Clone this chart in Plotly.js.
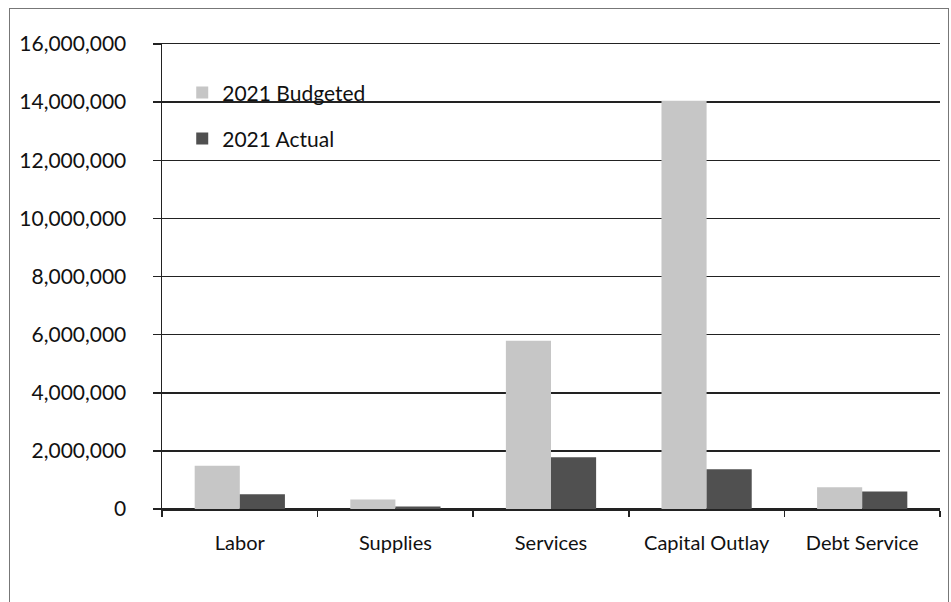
<!DOCTYPE html>
<html>
<head>
<meta charset="utf-8">
<script src="https://cdn.plot.ly/plotly-3.0.1.min.js"></script>
<style>
  html, body { margin: 0; padding: 0; background: #fff; }
  #chart { width: 951px; height: 602px; position: absolute; left: 0; top: 0; }
  #frame { position: absolute; left: 9px; top: 8px; width: 938px; height: 620px; border: 1.5px solid #777; pointer-events: none; }
</style>
</head>
<body>
<div id="chart"></div>
<div id="frame"></div>
<script>
const categories = ["Labor", "Supplies", "Services", "Capital Outlay", "Debt Service"];
const budgeted2021 = [1490000, 330000, 5790000, 14050000, 750000];
const actual2021 = [510000, 90000, 1780000, 1370000, 600000];
const seriesNames = ["2021 Budgeted", "2021 Actual"];
const yTickVals = [0, 2000000, 4000000, 6000000, 8000000, 10000000, 12000000, 14000000, 16000000];

const fontFam = "Lato, 'Open Sans', sans-serif";

const traces = [
  {
    type: "bar", name: seriesNames[0], x: categories, y: budgeted2021,
    marker: { color: "#c6c6c6", line: { width: 0 } },
    legend: "legend", hoverinfo: "skip"
  },
  {
    type: "bar", name: seriesNames[1], x: categories, y: actual2021,
    marker: { color: "#505050", line: { width: 0 } },
    legend: "legend2", hoverinfo: "skip"
  }
];

const layout = {
  width: 951, height: 602,
  margin: { l: 162, r: 11, t: 44, b: 93 },
  paper_bgcolor: "#ffffff", plot_bgcolor: "#ffffff",
  barmode: "group", bargap: 0.42, bargroupgap: 0,
  font: { family: fontFam, size: 21, color: "#111" },
  showlegend: true,
  legend: {
    x: 0.026, y: 0.895, xanchor: "left", yanchor: "middle",
    bgcolor: "rgba(0,0,0,0)", font: { family: fontFam, size: 21, color: "#111" },
    itemwidth: 30
  },
  legend2: {
    x: 0.026, y: 0.796, xanchor: "left", yanchor: "middle",
    bgcolor: "rgba(0,0,0,0)", font: { family: fontFam, size: 21, color: "#111" },
    itemwidth: 30
  },
  xaxis: {
    type: "category",
    showline: true, mirror: true, linecolor: "#222", linewidth: 1.5,
    ticks: "outside", tickson: "boundaries", ticklen: 6, tickcolor: "#222", tickwidth: 1.5,
    showgrid: false, zeroline: false,
    tickfont: { family: fontFam, size: 20, color: "#111" },
    ticklabelstandoff: 15
  },
  yaxis: {
    range: [0, 16000000],
    tickvals: yTickVals,
    tickformat: ",d",
    showline: true, linecolor: "#222", linewidth: 1.5,
    ticks: "outside", ticklen: 8, tickcolor: "#222", tickwidth: 1.5,
    showgrid: true, gridcolor: "#222", gridwidth: 1.5,
    zeroline: true, zerolinecolor: "#222", zerolinewidth: 1.5,
    tickfont: { family: fontFam, size: 21, color: "#111" },
    ticklabelstandoff: 22
  }
};

Plotly.newPlot("chart", traces, layout, { displayModeBar: false, staticPlot: true });
</script>
</body>
</html>
